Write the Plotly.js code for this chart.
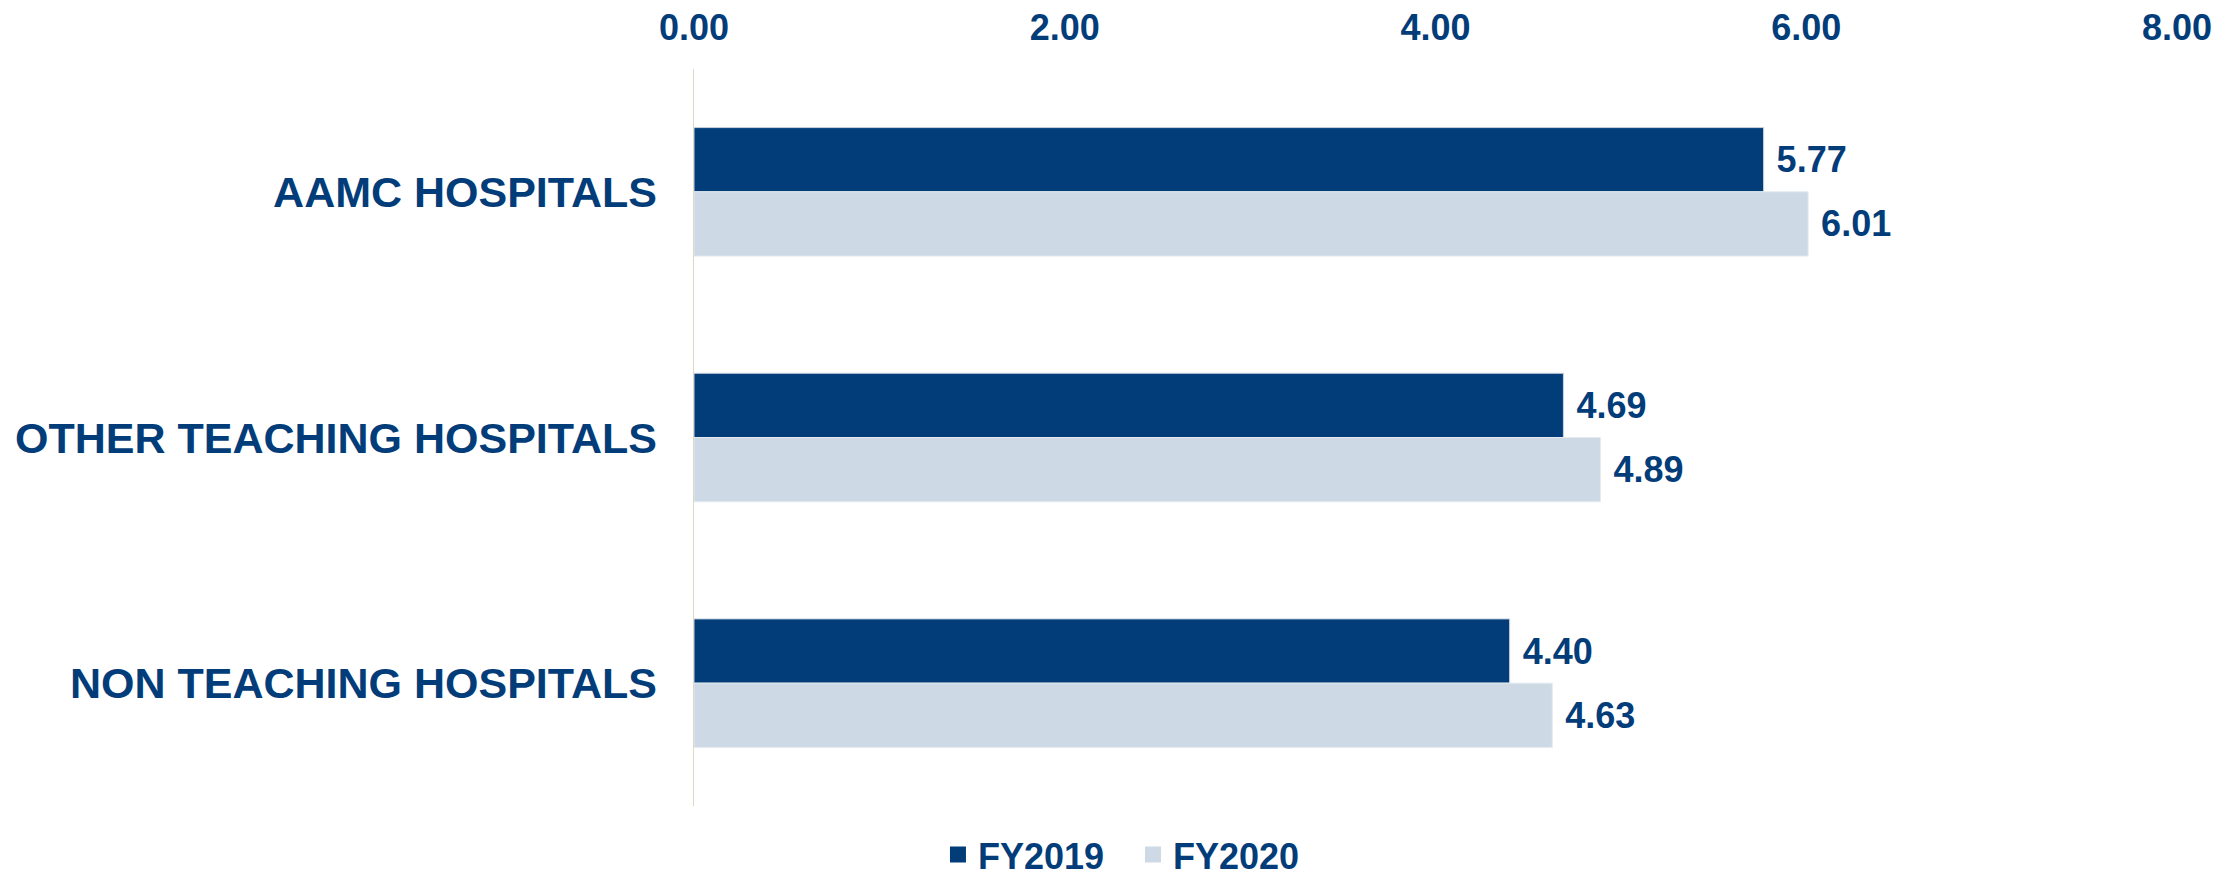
<!DOCTYPE html>
<html>
<head>
<meta charset="utf-8">
<script src="https://cdn.plot.ly/plotly-3.0.1.min.js"></script>
<style>
  html, body { margin: 0; padding: 0; background: #fff; }
  #chart { width: 2234px; height: 879px; }
</style>
</head>
<body>
<div id="chart"></div>
<script>
// Values
var categories = ["AAMC HOSPITALS", "OTHER TEACHING HOSPITALS", "NON TEACHING HOSPITALS"];
var fy2019 = [5.77, 4.69, 4.40];
var fy2020 = [6.01, 4.89, 4.63];
var xTicks = [0, 2, 4, 6, 8];
var xTickText = ["0.00", "2.00", "4.00", "6.00", "8.00"];

var navy = '#023d7a';
var light = '#cdd9e4';

var labelFont = { family: 'Liberation Sans, Arial, sans-serif', size: 36, color: navy, weight: 'bold' };

var trace2019 = {
    y: categories,
    x: fy2019,
    type: 'bar',
    orientation: 'h',
    name: 'FY2019',
    legendgroup: 'fy2019',
    showlegend: false,
    marker: { color: navy, line: { color: '#c9d2dc', width: 1 } },
    texttemplate: '\u00a0%{x:.2f}',
    textposition: 'outside',
    textfont: labelFont,
    constraintext: 'none',
    cliponaxis: false
};
var trace2020 = {
    y: categories,
    x: fy2020,
    type: 'bar',
    orientation: 'h',
    name: 'FY2020',
    legendgroup: 'fy2020',
    showlegend: false,
    marker: { color: light, line: { color: '#e4eaf0', width: 1 } },
    texttemplate: '\u00a0%{x:.2f}',
    textposition: 'outside',
    textfont: labelFont,
    constraintext: 'none',
    cliponaxis: false
};
// legend entries with bigger square swatches
var legend2019 = {
    x: [null], y: [null], type: 'scatter', mode: 'markers', name: 'FY2019',
    legendgroup: 'fy2019', marker: { symbol: 'square', size: 19, color: navy }
};
var legend2020 = {
    x: [null], y: [null], type: 'scatter', mode: 'markers', name: 'FY2020',
    legendgroup: 'fy2020', marker: { symbol: 'square', size: 19, color: light }
};

var layout = {
    width: 2234,
    height: 879,
    margin: { l: 694, r: 57, t: 69, b: 73, autoexpand: false },
    paper_bgcolor: '#ffffff',
    plot_bgcolor: '#ffffff',
    font: { family: 'Liberation Sans, Arial, sans-serif', color: navy, weight: 'bold' },
    barmode: 'group',
    bargap: 0.477,
    bargroupgap: 0,
    showlegend: true,
    legend: {
        orientation: 'h',
        x: 0.296,
        xanchor: 'center',
        y: -0.066,
        yanchor: 'middle',
        font: { size: 36, color: navy, weight: 'bold' },
        itemwidth: 30,
        entrywidth: 150,
        entrywidthmode: 'pixels',
        traceorder: 'normal'
    },
    xaxis: {
        side: 'top',
        range: [0, 8],
        tickvals: xTicks,
        ticktext: xTickText,
        tickfont: { size: 36, color: navy, weight: 'bold' },
        showgrid: false,
        zeroline: false,
        showline: false,
        ticks: '',
        ticklabelstandoff: 21,
        fixedrange: true
    },
    yaxis: {
        autorange: 'reversed',
        tickfont: { size: 43, color: navy, weight: 'bold' },
        showgrid: false,
        zeroline: false,
        showline: true,
        linecolor: '#ddd8c8',
        linewidth: 1.5,
        ticks: '',
        ticklabelstandoff: 27,
        fixedrange: true
    }
};

Plotly.newPlot('chart', [trace2019, trace2020, legend2019, legend2020], layout, { displayModeBar: false, staticPlot: true });
</script>
</body>
</html>
